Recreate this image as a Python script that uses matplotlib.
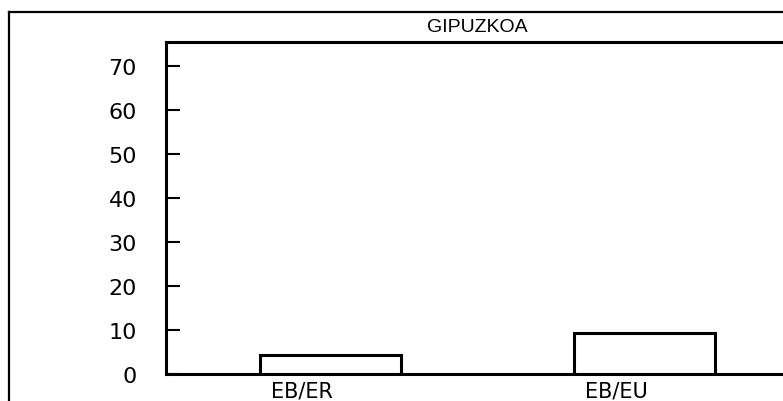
import matplotlib.pyplot as plt
from matplotlib.lines import Line2D
import numpy as np

title = "GIPUZKOA"
categories = ["EB/ER", "EB/EU"]
values = [4.5, 9.5]
y_ticks = [0, 10, 20, 30, 40, 50, 60, 70]

fig = plt.figure(figsize=(7.83, 4.02), dpi=100)
ax = fig.add_axes([0.212, 0.066, 0.788, 0.827])

x = np.arange(len(categories))
# bars sit a little right of their labels in the original
ax.bar(x + 0.09, values, width=0.45, color="white", edgecolor="black", linewidth=2.2)

ax.set_xlim(-0.433, 1.532)
ax.set_ylim(0, 75.5)
ax.set_xticks(x)
ax.set_xticklabels(categories, fontsize=15)
ax.set_yticks(y_ticks)
ax.set_yticklabels([str(v) for v in y_ticks], fontsize=16)
ax.tick_params(axis="y", direction="in", length=10, width=1.5, pad=21)
ax.tick_params(axis="x", length=0, pad=4)

ax.spines["right"].set_visible(False)
for s in ["left", "top", "bottom"]:
    ax.spines[s].set_linewidth(2.2)

# outer frame and title strip
fig.add_artist(Line2D([0.0115, 1.0], [0.968, 0.968], color="black", lw=1.6))
fig.add_artist(Line2D([0.0115, 0.0115], [0.0, 0.968], color="black", lw=1.6))
fig.text(0.61, 0.932, title, ha="center", va="center", fontsize=14,
         family="Liberation Sans")

fig.savefig("out.png", dpi=100)
